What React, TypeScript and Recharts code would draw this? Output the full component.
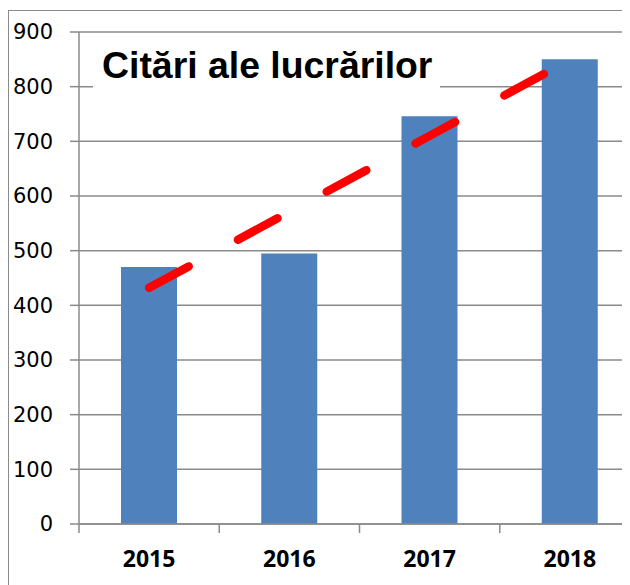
import { ComposedChart, Bar, Line, XAxis, YAxis, CartesianGrid } from 'recharts';

const years = ['2015', '2016', '2017', '2018'];
const citations = [470, 495, 746, 850];
const trend = [432, 571, 710, 849];
const yTicks = [0, 100, 200, 300, 400, 500, 600, 700, 800, 900];

const data = years.map((year, i) => ({ year, citations: citations[i], trend: trend[i] }));

const gray = '#8a8a8a';

const YearTick = (props: any) => {
  const { x, y, payload } = props;
  const half = payload.offset ?? 0;
  return (
    <g>
      <line x1={x - half} y1={y} x2={x - half} y2={y + 9} stroke={gray} strokeWidth={1.5} />
      <text
        x={x}
        y={y + 43}
        textAnchor="middle"
        fontFamily="'Open Sans', sans-serif"
        fontWeight={700}
        fontSize={23}
        fill="#000"
      >
        {payload.value}
      </text>
    </g>
  );
};

const App = () => (
  <div
    style={{
      position: 'relative',
      width: 622,
      height: 575,
      marginTop: 2,
      overflow: 'hidden',
      borderLeft: `1px solid ${gray}`,
      borderTop: `1px solid ${gray}`,
      boxSizing: 'border-box',
      background: '#fff',
    }}
  >
    <ComposedChart
      width={645}
      height={600}
      data={data}
      margin={{ top: 21, right: 14, left: 0, bottom: 0 }}
    >
      <CartesianGrid vertical={false} stroke={gray} strokeWidth={1.5} />
      <XAxis
        dataKey="year"
        height={87}
        axisLine={{ stroke: gray, strokeWidth: 1.5 }}
        tickLine={false}
        tickSize={0}
        tickMargin={0}
        tick={<YearTick />}
        interval={0}
      />
      <YAxis
        width={70}
        domain={[0, 900]}
        ticks={yTicks}
        interval={0}
        axisLine={{ stroke: gray, strokeWidth: 1.5 }}
        tickLine={{ stroke: gray, strokeWidth: 1.5 }}
        tickSize={9}
        tickMargin={17}
        tick={{ fill: '#000', fontSize: 21, fontFamily: "'DejaVu Sans', sans-serif" }}
      />
      <Bar dataKey="citations" fill="#4F81BD" barSize={56} isAnimationActive={false} />
      <Line
        dataKey="trend"
        stroke="#FF0000"
        strokeWidth={8.5}
        strokeDasharray="45 56"
        strokeLinecap="round"
        dot={false}
        activeDot={false}
        isAnimationActive={false}
      />
    </ComposedChart>
    <div
      style={{
        position: 'absolute',
        left: 84,
        top: 30,
        width: 347,
        height: 64,
        background: '#fff',
        boxSizing: 'border-box',
        paddingLeft: 9,
        paddingTop: 6,
        fontFamily: "'Liberation Sans', Arial, sans-serif",
        fontWeight: 700,
        fontSize: 37.4,
        lineHeight: '36px',
        color: '#000',
        whiteSpace: 'nowrap',
      }}
    >
      Citări ale lucrărilor
    </div>
  </div>
);

export default App;
